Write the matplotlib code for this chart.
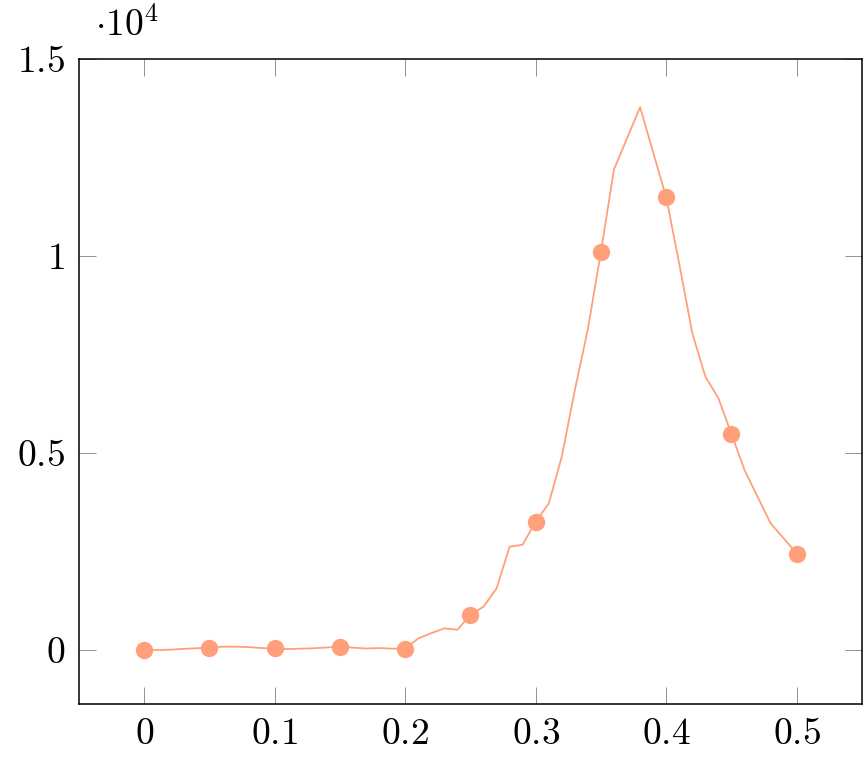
import matplotlib.pyplot as plt
import matplotlib as mpl
from matplotlib.ticker import FuncFormatter
import numpy as np

mpl.rcParams['mathtext.fontset'] = 'cm'
mpl.rcParams['font.family'] = 'serif'
mpl.rcParams['font.serif'] = ['cmr10', 'DejaVu Serif']
mpl.rcParams['axes.formatter.use_mathtext'] = True

# sampled curve, step 0.01
x_vals = [0.00, 0.01, 0.02, 0.03, 0.04, 0.05, 0.06, 0.07, 0.08, 0.09,
          0.10, 0.11, 0.12, 0.13, 0.14, 0.15, 0.16, 0.17, 0.18, 0.19,
          0.20, 0.21, 0.22, 0.23, 0.24, 0.25, 0.26, 0.27, 0.28, 0.29,
          0.30, 0.31, 0.32, 0.33, 0.34, 0.35, 0.36, 0.37, 0.38, 0.39,
          0.40, 0.41, 0.42, 0.43, 0.44, 0.45, 0.46, 0.47, 0.48, 0.49,
          0.50]
y_vals = [0, 0, 10, 30, 45, 60, 85, 85, 75, 50,
          40, 25, 35, 45, 65, 85, 60, 40, 50, 35,
          35, 295, 430, 550, 515, 890, 1100, 1565, 2620, 2675,
          3257, 3720, 4910, 6600, 8150, 10110, 12200, 12990, 13775, 12630,
          11490, 9800, 8040, 6940, 6390, 5480, 4570, 3890, 3215, 2835,
          2450]

x_ticks = [0, 0.1, 0.2, 0.3, 0.4, 0.5]
y_ticks = [0, 5000, 10000, 15000]

COLOR = '#ffa07a'


def fmt_num(v):
    s = "%g" % v
    return r"$%s$" % s


def main():
    fig = plt.figure(figsize=(8.63, 7.58), dpi=100)
    ax = fig.add_axes([0.0915, 0.0712, 0.9073, 0.851])

    ax.plot(x_vals, y_vals, color=COLOR, lw=1.3, marker='o', markersize=12.5,
            markevery=5, markeredgewidth=0, zorder=3)

    ax.set_xlim(-0.05, 0.55)
    ax.set_ylim(-1370, 15000)
    ax.set_xticks(x_ticks)
    ax.set_yticks(y_ticks)
    ax.xaxis.set_major_formatter(FuncFormatter(lambda v, p: fmt_num(v)))
    ax.yaxis.set_major_formatter(FuncFormatter(lambda v, p: fmt_num(v / 1e4)))

    ax.tick_params(direction='in', length=12, width=0.6, color='#808080',
                   top=True, right=True, labelsize=27, pad=10)
    for sp in ax.spines.values():
        sp.set_linewidth(1.1)

    ax.text(0.02, 1.025, r"$\cdot 10^4$", transform=ax.transAxes,
            fontsize=27, ha='left', va='bottom')

    fig.savefig("out.png", dpi=100)


if __name__ == "__main__":
    main()
